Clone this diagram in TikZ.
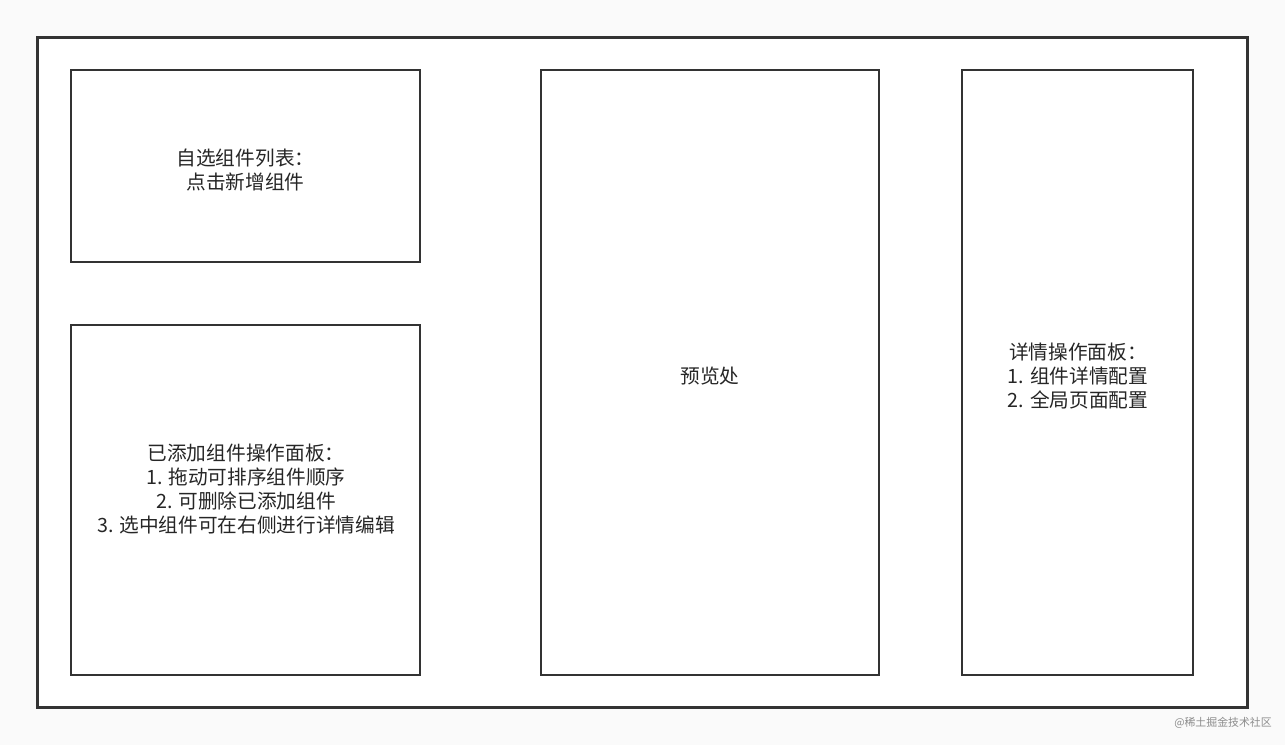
\documentclass[tikz,border=0pt]{standalone}
\usepackage{fontspec}
\setmainfont{Noto Sans CJK SC}
\usepackage{tikz}
\tikzset{
  font={\fontsize{11.2pt}{13.6pt}\selectfont}}

\begin{document}
\begin{tikzpicture}[x=0.02cm,y=-0.02cm]
\tikzstyle{every node}+=[inner sep=0pt]
\tikzstyle{panel}=[draw=black!80,line width=1.6pt,rectangle]
\tikzstyle{txt}=[align=center,text=black!85]
\fill [black!2] (0,0) rectangle (1285,745);
\useasboundingbox (0,0) rectangle (1285,745);
\node [panel,fill=white,line width=1.7pt,minimum width=24.22cm,minimum height=13.42cm] (frame) at (642.5,372.5) {};
\node [panel,minimum width=6.98cm,minimum height=3.84cm] (pick) at (245.5,166) {};
\node [panel,minimum width=6.98cm,minimum height=7cm] (added) at (245.5,500) {};
\node [panel,minimum width=6.76cm,minimum height=12.1cm] (preview) at (710,372.5) {};
\node [panel,minimum width=4.62cm,minimum height=12.1cm] (detail) at (1077.5,372.5) {};
\node [txt] (picktxt) at (245.5,170) {自选组件列表：\\点击新增组件};
\node [txt] (addedtxt) at (246,489) {已添加组件操作面板：\\1. 拖动可排序组件顺序\\2. 可删除已添加组件\\3. 选中组件可在右侧进行详情编辑};
\node [txt] (previewtxt) at (710,376) {预览处};
\node [txt] (detailtxt) at (1078,376) {详情操作面板：\\1. 组件详情配置\\2. 全局页面配置};
\node [text=black!45,font={\fontsize{6.2pt}{8pt}\selectfont}] (mark) at (1223,723) {@稀土掘金技术社区};
\end{tikzpicture}
\end{document}
